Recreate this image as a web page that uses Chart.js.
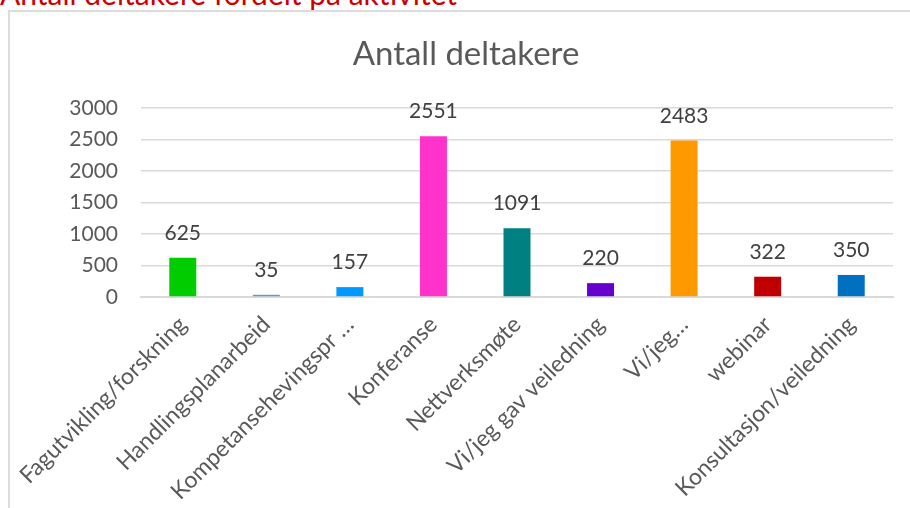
<!DOCTYPE html>
<html>
<head>
<meta charset="utf-8">
<script src="https://cdn.jsdelivr.net/npm/chart.js@4/dist/chart.umd.min.js"></script>
<style>
  html, body { margin: 0; padding: 0; background: #ffffff; }
  #wrap { position: relative; width: 910px; height: 508px; overflow: hidden; }
  #slideTitle { position: absolute; left: 0px; top: -22.5px; font-family: Lato, "Liberation Sans", sans-serif; font-size: 30px; line-height: 30px; color: #CC0000; white-space: nowrap; }
  #frame { position: absolute; left: 8px; top: 10px; width: 1000px; height: 600px; border: 2px solid #DCDCDC; box-sizing: border-box; }
  #c { position: absolute; left: 0; top: 0; }
</style>
</head>
<body>
<div id="wrap">
  <div id="slideTitle">Antall deltakere fordelt på aktivitet</div>
  <div id="frame"></div>
  <canvas id="c" width="910" height="508"></canvas>
</div>
<script>
// ---- data ----
const categories = [
  "Fagutvikling/forskning",
  "Handlingsplanarbeid",
  "Kompetansehevingspr …",
  "Konferanse",
  "Nettverksmøte",
  "Vi/jeg gav veiledning",
  "Vi/jeg…",
  "webinar",
  "Konsultasjon/veiledning"
];
const values = [625, 35, 157, 2551, 1091, 220, 2483, 322, 350];
const barColors = ["#00CC00", "#5B9BD5", "#0099FF", "#FF33CC", "#008080", "#6600CC", "#FF9900", "#C00000", "#0070C0"];
const yTicks = [0, 500, 1000, 1500, 2000, 2500, 3000];
const chartTitle = "Antall deltakere";

const FONT = "Lato, 'Liberation Sans', sans-serif";

const dataLabels = {
  id: "dataLabels",
  afterDatasetsDraw(chart) {
    const ctx = chart.ctx;
    const meta = chart.getDatasetMeta(0);
    ctx.save();
    ctx.font = "21px " + FONT;
    ctx.fillStyle = "#404040";
    ctx.textAlign = "center";
    ctx.textBaseline = "alphabetic";
    meta.data.forEach((bar, i) => {
      ctx.fillText(String(values[i]), bar.x, bar.y - 18);
    });
    ctx.restore();
  }
};

// centre the chart title over the whole chart frame rather than the padded layout box
const titleCentre = {
  id: "titleCentre",
  afterLayout(chart) {
    if (chart.titleBlock) {
      chart.titleBlock.left = 0;
      chart.titleBlock.right = 932;
    }
  }
};

new Chart(document.getElementById("c"), {
  type: "bar",
  data: {
    labels: categories,
    datasets: [{
      data: values,
      backgroundColor: barColors,
      borderWidth: 0,
      barPercentage: 0.323,
      categoryPercentage: 1.0
    }]
  },
  options: {
    responsive: false,
    animation: false,
    devicePixelRatio: 1,
    layout: { padding: { left: 0, right: 17, top: 0, bottom: 0 } },
    plugins: {
      legend: { display: false },
      tooltip: { enabled: false },
      title: {
        display: true,
        text: chartTitle,
        color: "#595959",
        font: { family: FONT, size: 33, weight: "normal" },
        padding: { top: 34.5, bottom: 33.9 }
      }
    },
    scales: {
      x: {
        grid: { display: false, drawTicks: false },
        border: { display: true, color: "#D9D9D9", width: 2 },
        ticks: {
          autoSkip: false,
          maxRotation: 45,
          minRotation: 45,
          padding: 14,
          color: "#595959",
          font: { family: FONT, size: 23 }
        },
        afterFit(s) { s.height = 211; }
      },
      y: {
        min: 0,
        max: 3000,
        afterBuildTicks(s) { s.ticks = yTicks.map(v => ({ value: v })); },
        grid: { color: "#D9D9D9", lineWidth: 1.5, drawTicks: false },
        border: { display: false },
        ticks: {
          padding: 23,
          color: "#595959",
          font: { family: FONT, size: 21 },
          callback: (v) => String(v)
        },
        afterFit(s) { s.width = 141; }
      }
    }
  },
  plugins: [dataLabels, titleCentre]
});
</script>
</body>
</html>
